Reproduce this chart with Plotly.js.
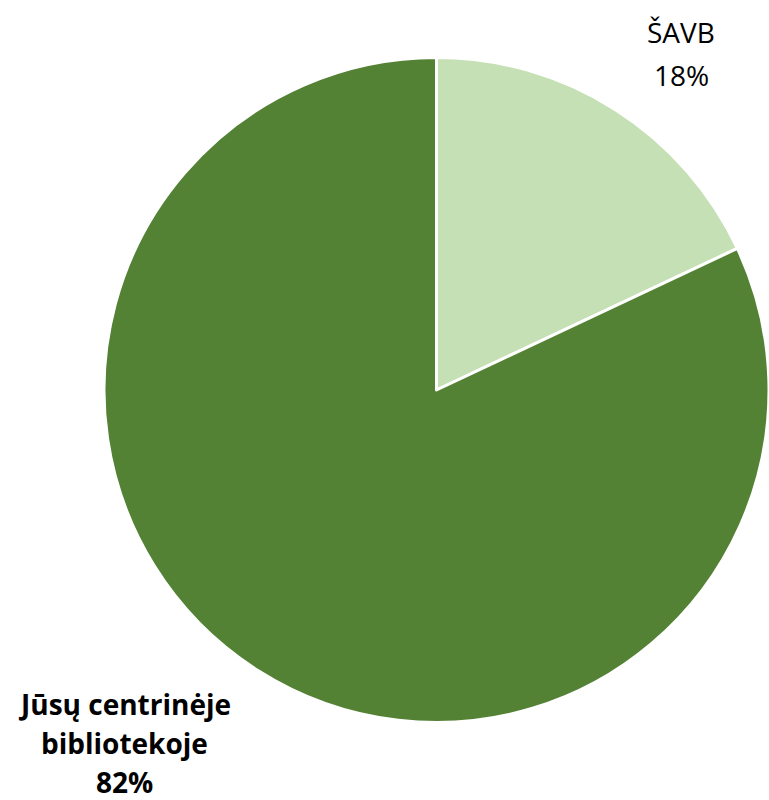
<!DOCTYPE html>
<html>
<head>
<meta charset="utf-8">
<script src="https://cdn.plot.ly/plotly-3.0.1.min.js"></script>
<style>html,body{margin:0;padding:0;background:#fff;}#chart{width:769px;height:800px;}</style>
</head>
<body>
<div id="chart"></div>
<script>
const labels = ["ŠAVB", "Jūsų centrinėje bibliotekoje"];
const values = [18, 82];
const colors = ["#c5e0b4", "#548235"];
const labelLines = [["ŠAVB", "18%"], ["Jūsų centrinėje", "bibliotekoje", "82%"]];

const W = 769, H = 800;
const cx = 437, cy = 390, R = 333;

const trace = {
  type: "pie",
  labels: labels,
  values: values,
  sort: false,
  direction: "clockwise",
  rotation: 0,
  textinfo: "none",
  hoverinfo: "label+percent",
  marker: {colors: colors, line: {color: "#ffffff", width: 3}},
  domain: {x: [(cx - R) / W, 1], y: [(H - cy - R) / H, (H - cy + R) / H]},
  showlegend: false
};

// label block anchors (pixel centre of block), line gap and style
const anchors = [{x: 681, y: 53, gap: 43, bold: false}, {x: 124, y: 743, gap: 39, bold: true}];
const annotations = [];
labelLines.forEach((lines, i) => {
  const a = anchors[i];
  const n = lines.length;
  lines.forEach((t, j) => {
    const py = a.y + (j - (n - 1) / 2) * a.gap;
    annotations.push({
      xref: "paper", yref: "paper",
      x: a.x / W, y: 1 - py / H,
      xanchor: "center", yanchor: "middle",
      showarrow: false,
      borderpad: 0,
      text: a.bold ? "<b>" + t + "</b>" : t,
      font: {family: "Open Sans, sans-serif", size: 28, color: "#000000"}
    });
  });
});

Plotly.newPlot("chart", [trace], {
  width: W, height: H,
  margin: {l: 0, r: 0, t: 0, b: 0},
  paper_bgcolor: "#ffffff",
  annotations: annotations
}, {displayModeBar: false, staticPlot: true});
</script>
</body>
</html>
